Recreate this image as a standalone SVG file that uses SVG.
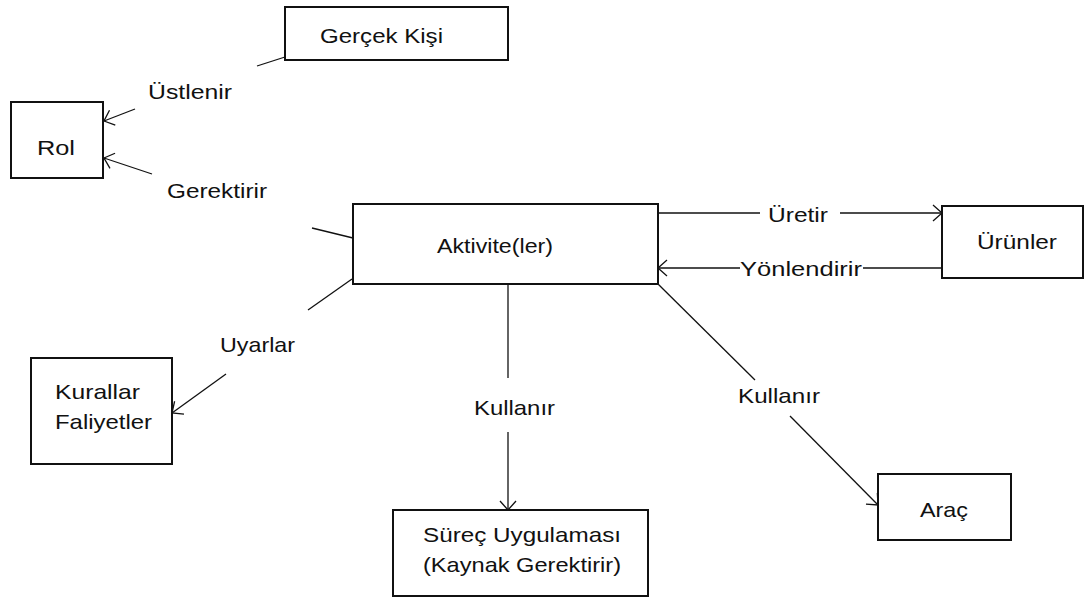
<svg xmlns="http://www.w3.org/2000/svg" width="1085" height="598" viewBox="0 0 1085 598">
  <style>
    .box { fill: #fff; stroke: #111; stroke-width: 2; }
    .lbl { font-family: "Liberation Sans", Arial, sans-serif; font-size: 21px; fill: #111; }
    .edge { fill: none; stroke: #111; stroke-width: 1.3; }
    .arrow { marker-end: url(#open); }
  </style>
  <defs>
    <marker id="open" markerUnits="userSpaceOnUse" viewBox="-1 -10 13 20" refX="10" refY="0" markerWidth="13" markerHeight="20" orient="auto">
      <path d="M1,-8 L10,0 L1,8" fill="none" stroke="#111" stroke-width="1.3"/>
    </marker>
  </defs>
  <rect width="1085" height="598" fill="#fff"/>

  <!-- connectors: each split around its label -->
  <g id="connectors">
    <g id="e-ustlenir">
      <line class="edge" x1="285" y1="57" x2="257" y2="66"/>
      <line class="edge arrow" x1="135" y1="109" x2="104" y2="121"/>
      <text class="lbl" x="148" y="99" textLength="84" lengthAdjust="spacingAndGlyphs">Üstlenir</text>
    </g>
    <g id="e-gerektirir">
      <line class="edge" x1="353" y1="238" x2="312" y2="228"/>
      <line class="edge arrow" x1="152" y1="174" x2="104" y2="158"/>
      <text class="lbl" x="167" y="198" textLength="100" lengthAdjust="spacingAndGlyphs">Gerektirir</text>
    </g>
    <g id="e-uyarlar">
      <line class="edge" x1="352" y1="279" x2="308" y2="310"/>
      <line class="edge arrow" x1="226" y1="374" x2="172" y2="413"/>
      <text class="lbl" x="220" y="352" textLength="75" lengthAdjust="spacingAndGlyphs">Uyarlar</text>
    </g>
    <g id="e-uretir">
      <line class="edge" x1="658" y1="213" x2="760" y2="213"/>
      <line class="edge arrow" x1="840" y1="213" x2="942" y2="213"/>
      <text class="lbl" x="768" y="222" textLength="60" lengthAdjust="spacingAndGlyphs">Üretir</text>
    </g>
    <g id="e-yonlendirir">
      <line class="edge" x1="942" y1="268" x2="863" y2="268"/>
      <line class="edge arrow" x1="740" y1="268" x2="658" y2="268"/>
      <text class="lbl" x="740" y="276" textLength="122" lengthAdjust="spacingAndGlyphs">Yönlendirir</text>
    </g>
    <g id="e-kullanir-surec">
      <line class="edge" x1="508" y1="284" x2="508" y2="378"/>
      <line class="edge arrow" x1="508" y1="432" x2="508" y2="510"/>
      <text class="lbl" x="474" y="415" textLength="81" lengthAdjust="spacingAndGlyphs">Kullanır</text>
    </g>
    <g id="e-kullanir-arac">
      <line class="edge" x1="658" y1="284" x2="755" y2="380"/>
      <line class="edge arrow" x1="790" y1="416" x2="878" y2="505"/>
      <text class="lbl" x="738" y="403" textLength="82" lengthAdjust="spacingAndGlyphs">Kullanır</text>
    </g>
  </g>

  <g id="n-gercek-kisi">
    <rect class="box" x="285" y="7" width="223" height="53"/>
    <text class="lbl" x="320" y="43" textLength="123" lengthAdjust="spacingAndGlyphs">Gerçek Kişi</text>
  </g>
  <g id="n-rol">
    <rect class="box" x="11" y="102" width="92" height="76"/>
    <text class="lbl" x="37" y="155" textLength="38" lengthAdjust="spacingAndGlyphs">Rol</text>
  </g>
  <g id="n-aktivite">
    <rect class="box" x="353" y="204" width="305" height="80"/>
    <text class="lbl" x="437" y="253" textLength="116" lengthAdjust="spacingAndGlyphs">Aktivite(ler)</text>
  </g>
  <g id="n-urunler">
    <rect class="box" x="942" y="206" width="141" height="72"/>
    <text class="lbl" x="977" y="249" textLength="80" lengthAdjust="spacingAndGlyphs">Ürünler</text>
  </g>
  <g id="n-kurallar">
    <rect class="box" x="31" y="358" width="141" height="106"/>
    <text class="lbl" x="55" y="399" textLength="85" lengthAdjust="spacingAndGlyphs">Kurallar</text>
    <text class="lbl" x="55" y="429" textLength="97" lengthAdjust="spacingAndGlyphs">Faliyetler</text>
  </g>
  <g id="n-surec">
    <rect class="box" x="393" y="510" width="255" height="86"/>
    <text class="lbl" x="423" y="542" textLength="198" lengthAdjust="spacingAndGlyphs">Süreç Uygulaması</text>
    <text class="lbl" x="423" y="572" textLength="198" lengthAdjust="spacingAndGlyphs">(Kaynak Gerektirir)</text>
  </g>
  <g id="n-arac">
    <rect class="box" x="878" y="474" width="133" height="66"/>
    <text class="lbl" x="920" y="517" textLength="48" lengthAdjust="spacingAndGlyphs">Araç</text>
  </g>
</svg>
